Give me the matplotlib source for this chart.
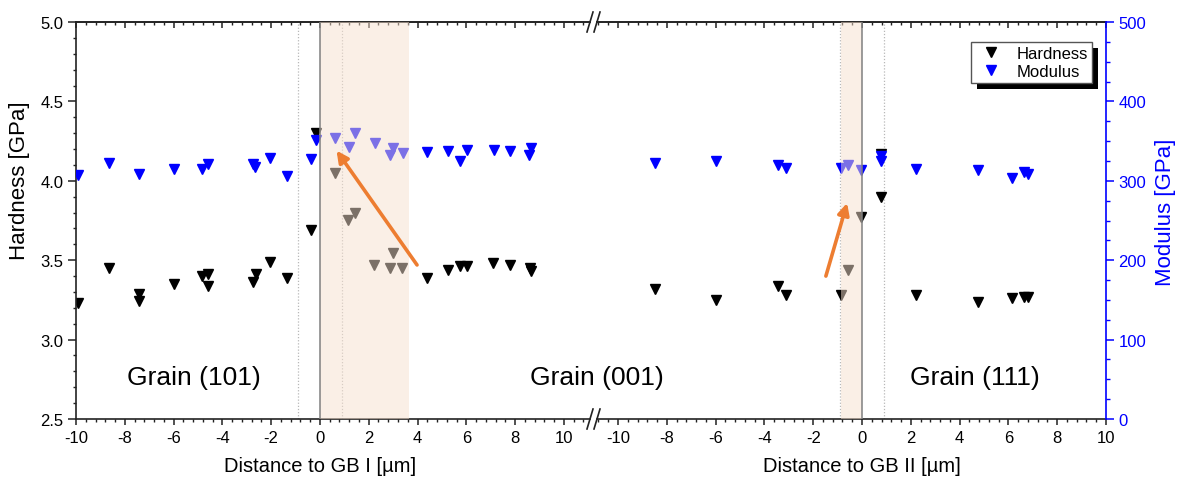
import matplotlib
matplotlib.use('Agg')
import matplotlib.pyplot as plt
import matplotlib.transforms as mtransforms
from matplotlib.ticker import MultipleLocator
from matplotlib.patches import Rectangle
from matplotlib.lines import Line2D

plt.rcParams['font.family'] = ['Liberation Sans', 'DejaVu Sans']
plt.rcParams['axes.unicode_minus'] = False

# ---------------- data ----------------
# GB I panel (distance to GB I, µm)
hard_x1 = [-9.90, -8.64, -7.41, -7.41, -5.98, -4.82, -4.57, -4.60, -2.73, -2.64,
           -2.05, -1.34, -0.37, -0.16, 0.61, 1.16, 1.43, 2.22, 2.89, 3.00, 3.38,
           4.37, 5.25, 5.73, 6.03, 7.10, 7.78, 8.60, 8.67]
hard_y1 = [3.23, 3.45, 3.29, 3.24, 3.35, 3.40, 3.41, 3.34, 3.36, 3.41,
           3.49, 3.39, 3.69, 4.30, 4.05, 3.755, 3.80, 3.47, 3.45, 3.545, 3.45,
           3.39, 3.44, 3.465, 3.465, 3.48, 3.47, 3.45, 3.43]
mod_x1 = [-9.90, -8.64, -7.41, -5.98, -4.82, -4.57, -2.73, -2.66, -2.05, -1.34,
          -0.37, -0.16, 0.61, 1.19, 1.43, 2.25, 2.89, 3.00, 3.41, 4.37, 5.25,
          5.73, 6.03, 7.13, 7.78, 8.57, 8.67]
mod_y1 = [307, 322, 309, 315, 315, 321, 321, 318, 329, 306,
          327, 352, 354, 342, 360, 348, 333, 341, 335, 336, 337,
          325, 339, 339, 338, 332, 341]

# GB II panel (distance to GB II, µm)
hard_x2 = [-8.49, -5.98, -3.44, -3.10, -0.86, -0.56, -0.05, 0.77, 0.77, 2.21,
           4.74, 6.16, 6.65, 6.82]
hard_y2 = [3.32, 3.25, 3.34, 3.28, 3.28, 3.44, 3.77, 4.17, 3.90, 3.28,
           3.235, 3.26, 3.27, 3.27]
mod_x2 = [-8.49, -5.98, -3.44, -3.10, -0.88, -0.56, -0.05, 0.77, 0.77, 2.21,
          4.74, 6.16, 6.65, 6.82]
mod_y2 = [322, 325, 320, 316, 316, 320, 313, 331, 325, 315,
          314, 304, 311, 309]

grain_labels = ['Grain (101)', 'Grain (001)', 'Grain (111)']
xlabel1 = 'Distance to GB I [µm]'
xlabel2 = 'Distance to GB II [µm]'

# ---------------- layout ----------------
W, H = 1183, 485
fig = plt.figure(figsize=(W / 100, H / 100), dpi=100)

def fxy(px, py):
    return px / W, 1 - py / H

y_bot = 1 - 420 / H
y_top = 1 - 23 / H
ax1 = fig.add_axes([76 / W, y_bot, 514 / W, y_top - y_bot])
ax2 = fig.add_axes([597 / W, y_bot, 509 / W, y_top - y_bot])
ax1.set_xlim(-10, 11.07)
ax2.set_xlim(-10.86, 10)
for ax in (ax1, ax2):
    ax.set_ylim(2.5, 5.0)

ax1m = ax1.twinx()
ax2m = ax2.twinx()
for a in (ax1m, ax2m):
    a.set_ylim(0, 500)

BLUE = '#0000ff'
SPC = '#222222'
SHADE = '#f7e1cf'
ORANGE = '#ed7d31'
MS = 7

# spines
for ax in (ax1, ax2):
    for s in ax.spines.values():
        s.set_color(SPC)
        s.set_linewidth(1.2)
ax1.spines['right'].set_visible(False)
ax2.spines['left'].set_visible(False)
ax2.spines['right'].set_visible(False)
for s in ax1m.spines.values():
    s.set_visible(False)
for name in ('left', 'top', 'bottom'):
    ax2m.spines[name].set_visible(False)
ax2m.spines['right'].set_color(BLUE)
ax2m.spines['right'].set_linewidth(1.2)
ax1m.tick_params(right=False, labelright=False, which='both')
ax2.tick_params(axis='y', which='both', left=False, labelleft=False)

# ticks
for ax in (ax1, ax2):
    ax.xaxis.set_major_locator(MultipleLocator(2))
    ax.xaxis.set_minor_locator(MultipleLocator(0.4))
    ax.tick_params(axis='x', which='major', direction='out', length=4, width=1.1,
                   color=SPC, labelsize=12, pad=4)
    ax.tick_params(axis='x', which='minor', direction='out', length=2.2, width=1.0, color=SPC)
    sec = ax.secondary_xaxis('top')
    sec.xaxis.set_major_locator(MultipleLocator(2))
    sec.xaxis.set_minor_locator(MultipleLocator(0.4))
    sec.tick_params(axis='x', which='major', direction='in', length=4, width=1.1,
                    color=SPC, labeltop=False)
    sec.tick_params(axis='x', which='minor', direction='in', length=2.2, width=1.0, color=SPC)
    sec.spines['top'].set_color(SPC)
    sec.spines['top'].set_linewidth(1.2)

ax1.yaxis.set_major_locator(MultipleLocator(0.5))
ax1.yaxis.set_minor_locator(MultipleLocator(0.1))
ax1.yaxis.set_major_formatter(matplotlib.ticker.FormatStrFormatter('%.1f'))
ax1.tick_params(axis='y', which='major', direction='out', length=5.5, width=1.1,
                color=SPC, labelsize=12)
ax1.tick_params(axis='y', which='minor', direction='out', length=2.5, width=1.0, color=SPC)

ax2m.yaxis.set_major_locator(MultipleLocator(100))
ax2m.yaxis.set_minor_locator(MultipleLocator(25))
ax2m.tick_params(axis='y', which='major', direction='out', length=5.5, width=1.1,
                 color=BLUE, labelcolor=BLUE, labelsize=12)
ax2m.tick_params(axis='y', which='minor', direction='out', length=3, width=1.0, color=BLUE)

# reference lines
for ax in (ax1, ax2):
    for xv in (-0.9, 0.9):
        ax.axvline(xv, color='#b8b8b8', ls=(0, (1, 1.5)), lw=0.9, zorder=1)
ax1m.axvline(0, color='#808080', lw=1.1, zorder=6)
ax2m.axvline(0, color='#808080', lw=1.1, zorder=6)

# data
ax1.plot(hard_x1, hard_y1, ls='none', marker='v', ms=MS, color='black', zorder=2)
ax1m.plot(mod_x1, mod_y1, ls='none', marker='v', ms=MS, color=BLUE, zorder=2)
h_line, = ax2.plot(hard_x2, hard_y2, ls='none', marker='v', ms=MS, color='black', zorder=2)
m_line, = ax2m.plot(mod_x2, mod_y2, ls='none', marker='v', ms=MS, color=BLUE, zorder=2)

# shaded regions (on top, semi-transparent, fading markers underneath)
ax1m.axvspan(0, 3.63, color=SHADE, alpha=0.5, lw=0, zorder=5)
ax2m.axvspan(-0.88, 0, color=SHADE, alpha=0.5, lw=0, zorder=5)

# arrows
arrow_kw = dict(arrowstyle='-|>', color=ORANGE, lw=2.6, mutation_scale=17,
                shrinkA=0, shrinkB=0)
ax1m.annotate('', xy=(0.68, 4.19), xytext=(3.98, 3.47),
              xycoords=ax1.transData, textcoords=ax1.transData,
              arrowprops=arrow_kw, zorder=7)
ax2m.annotate('', xy=(-0.61, 3.86), xytext=(-1.48, 3.40),
              xycoords=ax2.transData, textcoords=ax2.transData,
              arrowprops=arrow_kw, zorder=7)

# grain labels
fig.text(*fxy(193.5, 378), grain_labels[0], fontsize=19, ha='center', va='center')
fig.text(*fxy(597, 378), grain_labels[1], fontsize=19, ha='center', va='center')
fig.text(*fxy(975, 378), grain_labels[2], fontsize=19, ha='center', va='center')

# axis labels
tr1 = mtransforms.blended_transform_factory(ax1.transData, ax1.transAxes)
tr2 = mtransforms.blended_transform_factory(ax2.transData, ax2.transAxes)
ax1.text(0, -0.118, xlabel1, transform=tr1, ha='center', va='center', fontsize=14.5)
ax2.text(0, -0.118, xlabel2, transform=tr2, ha='center', va='center', fontsize=14.5)
fig.text(*fxy(20, 181), 'Hardness [GPa]', rotation=90, ha='center', va='center', fontsize=16)
fig.text(*fxy(1166, 212), 'Modulus [GPa]', rotation=90, ha='center', va='center',
         fontsize=16, color=BLUE)

# break marks
for px in (590, 597):
    for py in (420, 23):
        x0, y0 = fxy(px - 3, py + 10)
        x1, y1 = fxy(px + 3, py - 10)
        fig.add_artist(Line2D([x0, x1], [y0, y1], transform=fig.transFigure,
                              color=SPC, lw=1.2))

# legend with hard black shadow
leg = ax2m.legend([h_line, m_line], ['Hardness', 'Modulus'],
                  loc='upper right', bbox_to_anchor=fxy(1092, 42.7),
                  bbox_transform=fig.transFigure, fontsize=12, numpoints=1,
                  frameon=True, fancybox=False, framealpha=1, edgecolor='#555555',
                  borderpad=0.25, handlelength=2.0, handletextpad=0.5,
                  labelspacing=0.2, borderaxespad=0)
leg.get_frame().set_linewidth(1.0)
leg.set_zorder(10)
fig.canvas.draw()
bb = leg.get_window_extent().transformed(ax2m.transAxes.inverted())
axw = ax2m.get_window_extent()
dx = 6 / axw.width
dy = 6 / axw.height
ax2m.add_patch(Rectangle((bb.x0 + dx, bb.y0 - dy), bb.width, bb.height,
                         transform=ax2m.transAxes, facecolor='black', edgecolor='none',
                         clip_on=False, zorder=9))

fig.savefig('out.png', dpi=100)
